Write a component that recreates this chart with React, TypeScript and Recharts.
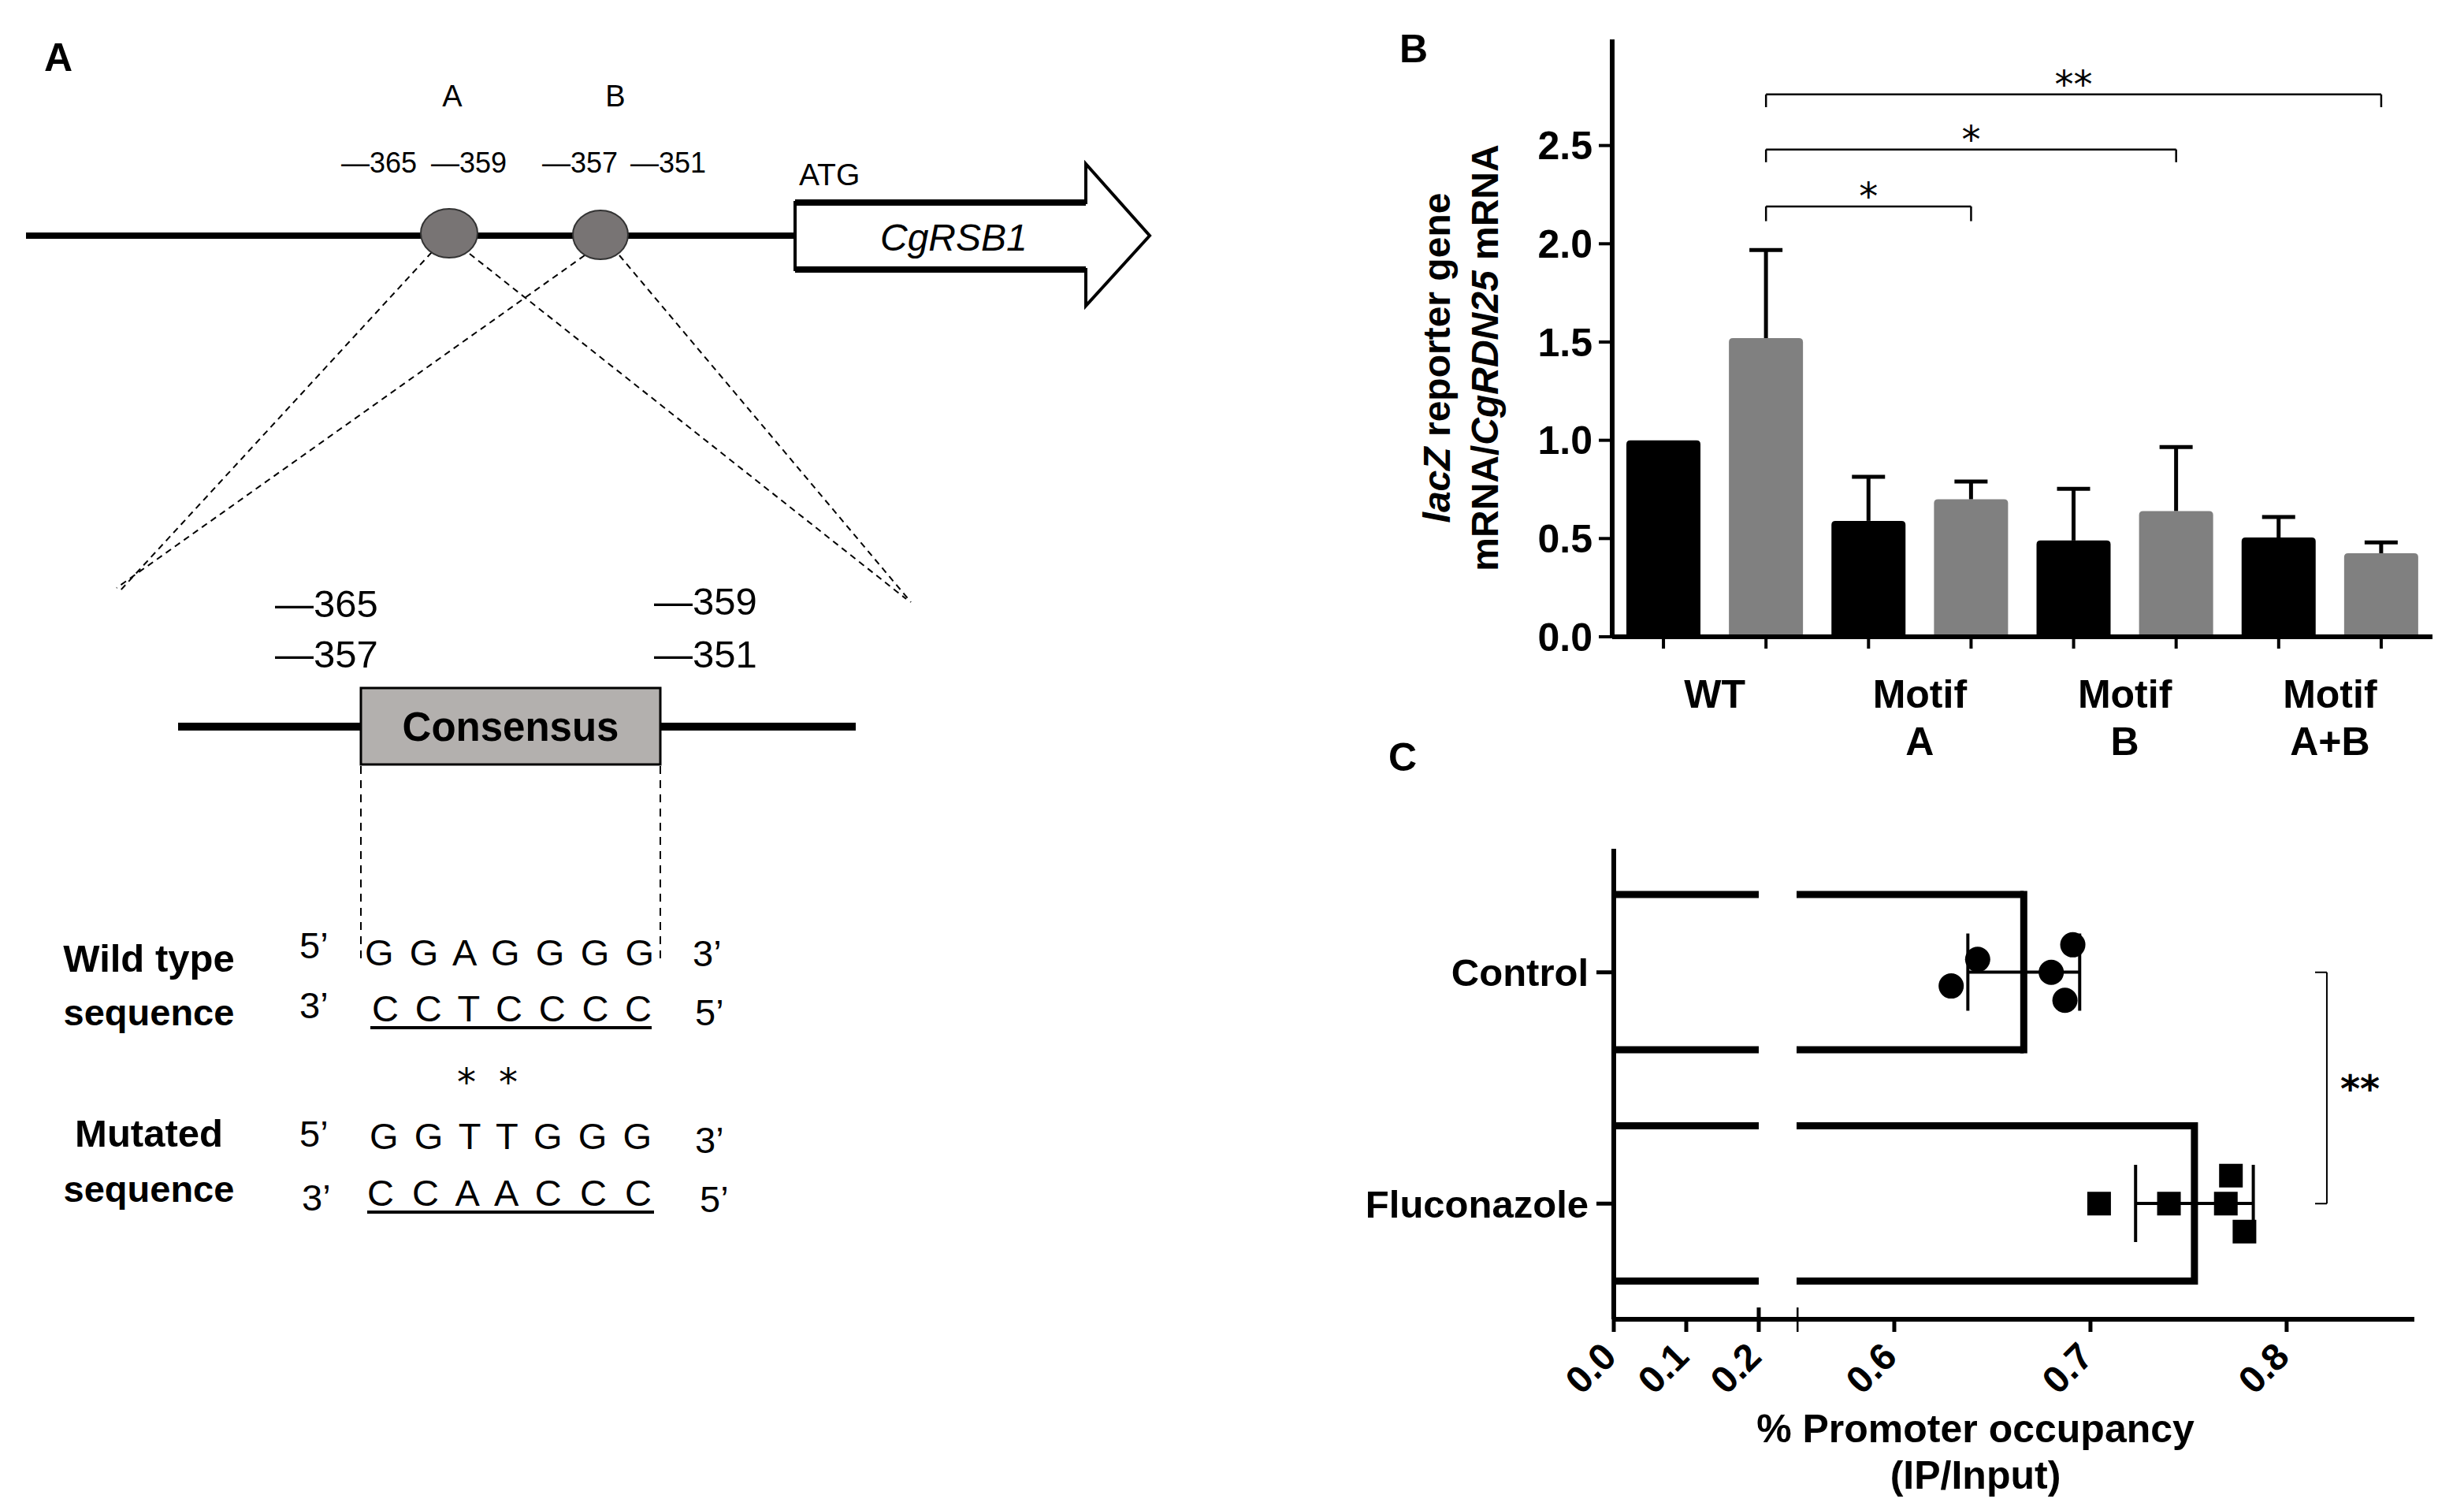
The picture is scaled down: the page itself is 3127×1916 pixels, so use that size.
import React from 'react';
import {
  BarChart, Bar, Cell, XAxis, YAxis, ReferenceLine,
  ComposedChart, Scatter, ErrorBar,
} from 'recharts';

const FONT = "'Liberation Sans', Arial, sans-serif";
const STAR_FONT = "'DejaVu Sans', sans-serif";

// ---- panel B: lacZ reporter expression ----
const barKeys = ['WT-1', 'WT-2', 'A-1', 'A-2', 'B-1', 'B-2', 'AB-1', 'AB-2'];
const groupLine1 = ['WT', 'Motif', 'Motif', 'Motif'];
const groupLine2 = ['', 'A', 'B', 'A+B'];
const expression = [1.0, 1.52, 0.59, 0.70, 0.49, 0.64, 0.505, 0.425];
const expressionSd = [0, 0.448, 0.224, 0.09, 0.263, 0.326, 0.105, 0.055];
const barColors = ['#000000', '#808080'];
const yTicksB = [0, 0.5, 1, 1.5, 2, 2.5];
const yMaxB = 3.04;

const bracketsB = [
  { from: 'WT-2', to: 'A-2', level: 2.19, drop: 0.075, mark: '*' },
  { from: 'WT-2', to: 'B-2', level: 2.48, drop: 0.065, mark: '*' },
  { from: 'WT-2', to: 'AB-2', level: 2.76, drop: 0.065, mark: '**' },
];

// ---- panel C: promoter occupancy ----
const occCategories = ['Control', 'Fluconazole'];
const occMean = [0.666, 0.753];
const occSd = [0.0285, 0.030];
const controlReps = [0.6425, 0.629, 0.680, 0.691, 0.687];
const controlRow = [0.444, 0.559, 0.5, 0.381, 0.621];
const flucoReps = [0.7044, 0.740, 0.769, 0.7716, 0.7785];
const flucoRow = [1.5, 1.5, 1.5, 1.379, 1.621];
const xTicksLow = [0, 0.1, 0.2];
const xTicksHigh = [0.6, 0.7, 0.8];
const lowBreak = 0.2;
const lowEnd = 0.2522;
const highStart = 0.5502;
const highEnd = 0.8651;
const sigX = 0.8205;
const sigStub = 0.8145;

const dataB = barKeys.map((key, i) => ({ key, value: expression[i], sd: expressionSd[i] }));
const dataC = occCategories.map((name, i) => ({
  name, low: Math.min(occMean[i], lowBreak), mean: occMean[i], sd: occSd[i],
}));
const ctrlPts = controlReps.map((v, i) => ({ v, j: controlRow[i] }));
const flucoPts = flucoReps.map((v, i) => ({ v, j: flucoRow[i] }));

const frame = { stroke: '#000', strokeWidth: 6 };
const padC = { top: 10, bottom: 0 };

function ErrBarShape(props: any) {
  const { x, y, width, height, fill } = props;
  const p = props.payload ?? props;
  const ppu = p.value ? height / p.value : 0;
  const top = y - p.sd * ppu;
  const cx = x + width / 2;
  const r = 5;
  return (
    <g>
      <path
        d={`M${x},${y + height} L${x},${y + r} Q${x},${y} ${x + r},${y} L${x + width - r},${y} Q${x + width},${y} ${x + width},${y + r} L${x + width},${y + height} Z`}
        fill={fill}
      />
      {p.sd > 0 && (
        <g stroke="#000" strokeWidth={5}>
          <line x1={cx} y1={y} x2={cx} y2={top} />
          <line x1={cx - 21} y1={top} x2={cx + 21} y2={top} />
        </g>
      )}
    </g>
  );
}

function GroupTick(props: any) {
  const { x, y, payload } = props;
  const idx = barKeys.indexOf(payload.value);
  if (idx < 0 || idx % 2 !== 0) return <g />;
  const g = idx / 2;
  const cx = x + (payload.offset ?? 65);
  return (
    <g fontSize={50} fontWeight={700} fill="#000">
      <text x={cx} y={y + 73} textAnchor="middle">{groupLine1[g]}</text>
      {groupLine2[g] && <text x={cx} y={y + 133} textAnchor="middle">{groupLine2[g]}</text>}
    </g>
  );
}

function OpenBar(props: any) {
  const { x, y, width, height, side } = props;
  return (
    <g stroke="#000" strokeWidth={9} fill="none">
      <line x1={x} y1={y} x2={x + width} y2={y} />
      <line x1={x} y1={y + height} x2={x + width} y2={y + height} />
      {side === 'right' && <line x1={x + width} y1={y - 4.5} x2={x + width} y2={y + height + 4.5} />}
    </g>
  );
}

function OccTick(props: any) {
  const { x, y, payload, breakAt } = props;
  const axisY = y - 20;
  const isBreak = Math.abs(payload.value - breakAt) < 1e-6;
  const hidden = Math.abs(payload.value - highStart) < 1e-6;
  const ax = x + 6;
  const ay = y + 30;
  return (
    <g>
      {isBreak && <line x1={x} y1={axisY - 15} x2={x} y2={axisY} stroke="#000" strokeWidth={5} />}
      {!hidden && (
        <text x={ax} y={ay} transform={`rotate(-45 ${ax} ${ay})`} textAnchor="end"
          fontSize={48} fontWeight={700} fill="#000">
          {Number(payload.value).toFixed(1)}
        </text>
      )}
    </g>
  );
}

function PanelA() {
  const num = { fontSize: 36, fill: '#000' };
  const seq = { fontSize: 47, fill: '#000' };
  const bold = { fontSize: 49, fontWeight: 700, fill: '#000', textAnchor: 'middle' as const };
  return (
    <g>
      <text x={56} y={90} fontSize={50} fontWeight={700}>A</text>
      <text x={574} y={135} fontSize={38} textAnchor="middle">A</text>
      <text x={781} y={135} fontSize={38} textAnchor="middle">B</text>
      <text x={433} y={219} {...num}>—365</text>
      <text x={547} y={219} {...num}>—359</text>
      <text x={688} y={219} {...num}>—357</text>
      <text x={800} y={219} {...num}>—351</text>

      <line x1={33} y1={299} x2={1009} y2={299} stroke="#000" strokeWidth={8} />
      <g stroke="#000" strokeWidth={2} strokeDasharray="8 6">
        <line x1={548} y1={320} x2={152} y2={750} />
        <line x1={596} y1={322} x2={1150} y2={760} />
        <line x1={742} y1={324} x2={148} y2={746} />
        <line x1={786} y1={324} x2={1156} y2={764} />
      </g>
      <ellipse cx={570} cy={296} rx={36} ry={31} fill="#787474" stroke="#333" strokeWidth={2} />
      <ellipse cx={762} cy={298} rx={35} ry={31} fill="#787474" stroke="#333" strokeWidth={2} />

      <polygon points="1009,257 1378,257 1378,208 1459,299 1378,388 1378,342 1009,342"
        fill="#fff" stroke="#000" strokeWidth={4} strokeLinejoin="miter" />
      <g stroke="#000" strokeWidth={8}>
        <line x1={1009} y1={257} x2={1378} y2={257} />
        <line x1={1009} y1={342} x2={1378} y2={342} />
      </g>
      <text x={1014} y={235} fontSize={39}>ATG</text>
      <text x={1117} y={318} fontSize={48} fontStyle="italic">CgRSB1</text>

      <text x={349} y={783} fontSize={49}>—365</text>
      <text x={349} y={847} fontSize={49}>—357</text>
      <text x={830} y={780} fontSize={49}>—359</text>
      <text x={830} y={847} fontSize={49}>—351</text>

      <line x1={226} y1={922} x2={1086} y2={922} stroke="#000" strokeWidth={10} />
      <rect x={458} y={873} width={380} height={97} fill="#b3b0ae" stroke="#000" strokeWidth={3} />
      <text x={648} y={940} fontSize={51} fontWeight={700} textAnchor="middle">Consensus</text>
      <g stroke="#000" strokeWidth={2} strokeDasharray="10 8">
        <line x1={458} y1={972} x2={458} y2={1221} />
        <line x1={838} y1={972} x2={838} y2={1221} />
      </g>

      <text x={189} y={1233} {...bold}>Wild type</text>
      <text x={189} y={1301} {...bold} fontSize={47}>sequence</text>
      <text x={189} y={1455} {...bold}>Mutated</text>
      <text x={189} y={1525} {...bold} fontSize={47}>sequence</text>

      <text x={380} y={1216} {...seq}>5’</text>
      <text x={463} y={1225} {...seq} textLength={367} lengthAdjust="spacing">G G A G G G G</text>
      <text x={879} y={1226} {...seq}>3’</text>
      <text x={380} y={1292} {...seq}>3’</text>
      <text x={472} y={1296} {...seq} textLength={355} lengthAdjust="spacing">C C T C C C C</text>
      <text x={882} y={1301} {...seq}>5’</text>
      <line x1={470} y1={1304} x2={827} y2={1304} stroke="#000" strokeWidth={4} />

      <text x={592} y={1390} fontSize={48} fontFamily={STAR_FONT} textAnchor="middle">*</text>
      <text x={645} y={1390} fontSize={48} fontFamily={STAR_FONT} textAnchor="middle">*</text>

      <text x={380} y={1455} {...seq}>5’</text>
      <text x={469} y={1458} {...seq} textLength={358} lengthAdjust="spacing">G G T T G G G</text>
      <text x={882} y={1463} {...seq}>3’</text>
      <text x={383} y={1536} {...seq}>3’</text>
      <text x={466} y={1530} {...seq} textLength={361} lengthAdjust="spacing">C C A A C C C</text>
      <text x={888} y={1538} {...seq}>5’</text>
      <line x1={466} y1={1538} x2={830} y2={1538} stroke="#000" strokeWidth={4} />
    </g>
  );
}

export default function App() {
  const bracketLines = bracketsB.flatMap((b, i) => [
    <ReferenceLine key={`h${i}`} segment={[{ x: b.from, y: b.level }, { x: b.to, y: b.level }]}
      stroke="#000" strokeWidth={2.5}
      label={{ value: b.mark, position: 'top', offset: -4, fontSize: 48, fill: '#000', fontFamily: STAR_FONT }} />,
    <ReferenceLine key={`l${i}`} segment={[{ x: b.from, y: b.level }, { x: b.from, y: b.level - b.drop }]}
      stroke="#000" strokeWidth={2.5} />,
    <ReferenceLine key={`r${i}`} segment={[{ x: b.to, y: b.level }, { x: b.to, y: b.level - b.drop }]}
      stroke="#000" strokeWidth={2.5} />,
  ]);

  return (
    <div style={{
      position: 'absolute', left: 0, top: 0, width: 3127, height: 1916,
      background: '#fff', overflow: 'hidden', fontFamily: FONT,
    }}>
      <svg width={3127} height={1916} style={{ position: 'absolute', left: 0, top: 0 }} fontFamily={FONT}>
        <PanelA />
        <text x={1776} y={79} fontSize={50} fontWeight={700}>B</text>
        <text x={1762} y={978} fontSize={50} fontWeight={700}>C</text>
        <g fontSize={48} fontWeight={700} textAnchor="middle">
          <text transform="translate(1840 454) rotate(-90)">
            <tspan fontStyle="italic">lacZ</tspan> reporter gene
          </text>
          <text transform="translate(1901 454) rotate(-90)">
            mRNA/<tspan fontStyle="italic">CgRDN25</tspan> mRNA
          </text>
        </g>
        <g fontSize={50} fontWeight={700} textAnchor="middle">
          <text x={2507} y={1830}>% Promoter occupancy</text>
          <text x={2507} y={1889}>(IP/Input)</text>
        </g>
      </svg>

      <div style={{ position: 'absolute', left: 1760, top: 0 }}>
        <BarChart width={1367} height={1000} data={dataB} barSize={94}
          margin={{ top: 50, right: 40, left: 176, bottom: 12 }}>
          <XAxis dataKey="key" interval={0} height={180} tick={<GroupTick />}
            tickSize={15} tickMargin={2} axisLine={frame} tickLine={{ stroke: '#000', strokeWidth: 4 }} />
          <XAxis xAxisId="top" dataKey="key" orientation="top" height={0}
            tick={false} tickLine={false} axisLine={frame} />
          <YAxis domain={[0, yMaxB]} ticks={yTicksB} allowDataOverflow width={110}
            tickFormatter={(v: number) => v.toFixed(1)}
            tick={{ fontSize: 50, fontWeight: 700, fill: '#000' }}
            tickSize={17} tickMargin={8} axisLine={frame} tickLine={{ stroke: '#000', strokeWidth: 4 }} />
          <YAxis yAxisId="right" orientation="right" domain={[0, yMaxB]} width={0}
            tick={false} tickLine={false} axisLine={frame} />
          <Bar dataKey="value" shape={(p: any) => <ErrBarShape {...p} />} isAnimationActive={false}>
            {dataB.map((d, i) => <Cell key={d.key} fill={barColors[i % 2]} />)}
          </Bar>
          {bracketLines}
        </BarChart>
      </div>

      <div style={{ position: 'absolute', left: 1700, top: 1000 }}>
        <ComposedChart layout="vertical" width={580} height={916} data={dataC}
          margin={{ top: 77, right: 0, left: 0, bottom: 0 }}>
          <XAxis type="number" domain={[0, lowEnd]} allowDataOverflow ticks={xTicksLow} interval={0}
            height={242} tickSize={16} tickMargin={4}
            tick={(p: any) => <OccTick {...p} breakAt={lowBreak} />}
            axisLine={frame} tickLine={{ stroke: '#000', strokeWidth: 5 }} />
          <XAxis xAxisId="top" orientation="top" type="number" domain={[0, lowEnd]} allowDataOverflow
            height={0} tick={false} tickLine={false} axisLine={frame} />
          <YAxis type="category" dataKey="name" width={348} tickSize={22} tickMargin={10} padding={padC}
            tick={{ fontSize: 49, fontWeight: 700, fill: '#000' }}
            axisLine={frame} tickLine={{ stroke: '#000', strokeWidth: 5 }} />
          <Bar dataKey="low" barSize={197} isAnimationActive={false}
            shape={(p: any) => <OpenBar {...p} side="left" />} />
        </ComposedChart>
      </div>

      <div style={{ position: 'absolute', left: 2280, top: 1000 }}>
        <ComposedChart layout="vertical" width={847} height={916} data={dataC}
          margin={{ top: 77, right: 63, left: 0, bottom: 0 }}>
          <XAxis xAxisId="v" type="number" domain={[highStart, highEnd]} allowDataOverflow
            ticks={[highStart, ...xTicksHigh]} interval={0} height={242} tickSize={16} tickMargin={4}
            tick={(p: any) => <OccTick {...p} breakAt={highStart} />}
            axisLine={frame} tickLine={{ stroke: '#000', strokeWidth: 5 }} />
          <XAxis xAxisId="top" orientation="top" type="number" domain={[highStart, highEnd]} allowDataOverflow
            height={0} tick={false} tickLine={false} axisLine={frame} />
          <XAxis xAxisId="sx" type="number" dataKey="v" domain={[highStart, highEnd]} allowDataOverflow
            hide height={0} />
          <YAxis yAxisId="c" type="category" dataKey="name" orientation="right" width={0} padding={padC}
            tick={false} tickLine={false} axisLine={frame} />
          <YAxis yAxisId="jit" type="number" dataKey="j" domain={[0, 2]} padding={padC} hide width={0} />
          <Bar xAxisId="v" yAxisId="c" dataKey="mean" barSize={197} isAnimationActive={false}
            shape={(p: any) => <OpenBar {...p} side="right" />}>
            <ErrorBar dataKey="sd" direction="x" width={49} stroke="#000" strokeWidth={4} />
          </Bar>
          <Scatter xAxisId="sx" yAxisId="jit" data={ctrlPts} isAnimationActive={false}
            shape={(p: any) => <circle cx={p.cx} cy={p.cy} r={16} fill="#000" />} />
          <Scatter xAxisId="sx" yAxisId="jit" data={flucoPts} isAnimationActive={false}
            shape={(p: any) => <rect x={p.cx - 15} y={p.cy - 15} width={30} height={30} fill="#000" />} />
          <ReferenceLine xAxisId="v" yAxisId="c"
            segment={[{ x: sigX, y: 'Control' }, { x: sigX, y: 'Fluconazole' }]} stroke="#000" strokeWidth={2}
            label={{ value: '**', position: 'right', offset: 17, fontSize: 48, fontWeight: 700, fill: '#000', fontFamily: STAR_FONT }} />
          <ReferenceLine xAxisId="v" yAxisId="c"
            segment={[{ x: sigStub, y: 'Control' }, { x: sigX, y: 'Control' }]} stroke="#000" strokeWidth={2} />
          <ReferenceLine xAxisId="v" yAxisId="c"
            segment={[{ x: sigStub, y: 'Fluconazole' }, { x: sigX, y: 'Fluconazole' }]} stroke="#000" strokeWidth={2} />
        </ComposedChart>
      </div>
    </div>
  );
}
